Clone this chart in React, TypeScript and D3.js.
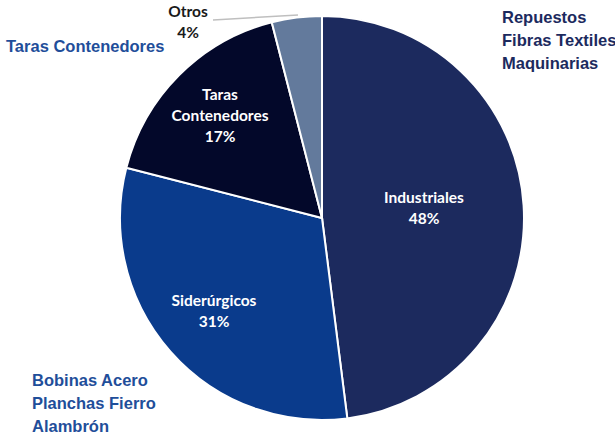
import React from "react";
import * as d3 from "d3";

const categories = ["Industriales", "Siderúrgicos", "Taras Contenedores", "Otros"];
const values = [48, 31, 17, 4];
const colors = ["#1C2A5E", "#0A3B8C", "#03082A", "#637A9C"];
const labelLines = [["Industriales", "48%"], ["Siderúrgicos", "31%"], ["Taras", "Contenedores", "17%"], ["Otros", "4%"]];
const sideNotes = [
  { lines: ["Repuestos", "Fibras Textiles", "Maquinarias"], x: 502, y: 19, color: "#1C2A5E" },
  { lines: ["Taras Contenedores"], x: 6, y: 48, color: "#1F4E9A" },
  { lines: ["Bobinas Acero", "Planchas Fierro", "Alambrón"], x: 32, y: 382, color: "#1F4E9A" },
];

export default function App() {
  const W = 615, H = 439;
  const cx = 322, cy = 218, r = 202;
  const pie = d3.pie<number>().sort(null).value((d) => d)(values);
  const arc = d3.arc<d3.PieArcDatum<number>>().innerRadius(0).outerRadius(r);
  const labelPos = [
    [424, 199],
    [214, 302],
    [220, 96],
    [188, 13],
  ];
  return (
    <svg width={W} height={H} style={{ position: "absolute", left: 0, top: 0 }}>
      <rect width={W} height={H} fill="#fff" />
      <g transform={`translate(${cx},${cy})`}>
        {pie.map((p, i) => (
          <path key={i} d={arc(p) || ""} fill={colors[i]} stroke="#fff" strokeWidth={2} />
        ))}
      </g>
      <line x1={213} y1={20} x2={298} y2={15} stroke="#BFBFBF" strokeWidth={1.5} />
      {labelLines.map((lines, i) => (
        <text
          key={i}
          x={labelPos[i][0]}
          y={labelPos[i][1]}
          textAnchor="middle"
          dominantBaseline="middle"
          fontFamily="Lato, 'Open Sans', sans-serif"
          fontWeight="bold"
          fontSize={15.5}
          fill={i === 3 ? "#1a1a1a" : "#ffffff"}
        >
          {lines.map((l, j) => (
            <tspan key={j} x={labelPos[i][0]} dy={j === 0 ? 0 : 21}>{l}</tspan>
          ))}
        </text>
      ))}
      {sideNotes.map((n, i) => (
        <text key={i} x={n.x} y={n.y} fontFamily="'Liberation Sans', Arial, sans-serif" fontWeight="bold" fontSize={16.5} fill={n.color} dominantBaseline="middle">
          {n.lines.map((l, j) => (
            <tspan key={j} x={n.x} dy={j === 0 ? 0 : 23}>{l}</tspan>
          ))}
        </text>
      ))}
    </svg>
  );
}
